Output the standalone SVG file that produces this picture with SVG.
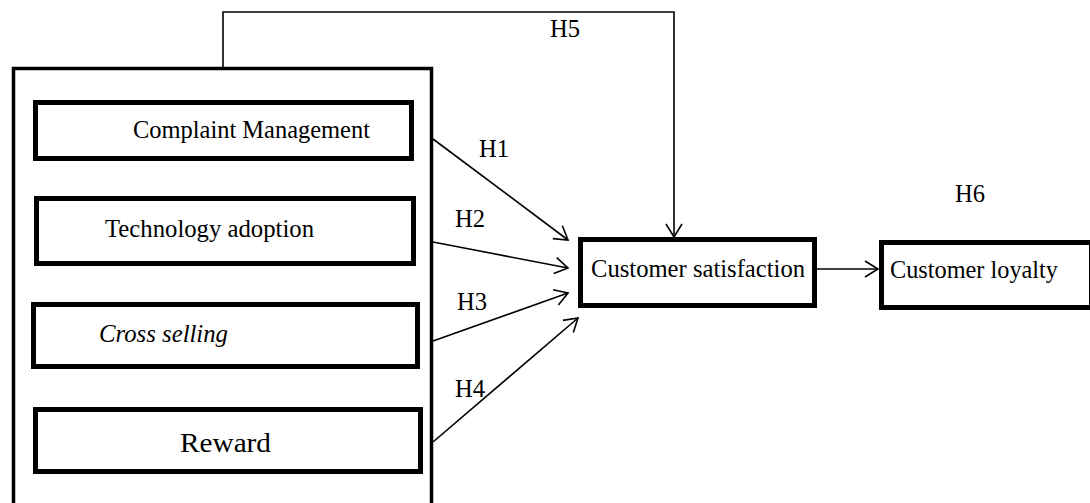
<svg xmlns="http://www.w3.org/2000/svg" width="1090" height="503" viewBox="0 0 1090 503">
<style>
.box{fill:#fff;stroke:#000;stroke-width:5}
.outer{fill:#fff;stroke:#000;stroke-width:3.5}
.t{font-family:'Liberation Serif','DejaVu Serif',serif;font-size:25px;fill:#000}
.it{font-style:italic}
.c{fill:none;stroke:#000;stroke-width:1.6}
</style>
<defs>
<marker id="ah" markerUnits="userSpaceOnUse" markerWidth="20" markerHeight="20" viewBox="0 0 20 20" refX="15" refY="10" orient="auto">
<path d="M2,2 L15,10 L2,18" fill="none" stroke="#000" stroke-width="1.6"/>
</marker>
</defs>
<rect width="1090" height="503" fill="#fff"/>
<g id="group-box">
<rect class="outer" x="13.5" y="68.5" width="418" height="450"/>
</g>
<g id="complaint">
<rect class="box" x="35.5" y="102.5" width="376" height="56"/>
<text class="t" font-family="Liberation Serif" x="133" y="138" textLength="237" lengthAdjust="spacingAndGlyphs">Complaint Management</text>
</g>
<g id="technology">
<rect class="box" x="36.5" y="198.5" width="377" height="65"/>
<text class="t" x="105" y="237" textLength="209" lengthAdjust="spacingAndGlyphs">Technology adoption</text>
</g>
<g id="cross">
<rect class="box" x="33.5" y="304.5" width="384" height="62"/>
<text class="t it" x="99" y="342" textLength="129" lengthAdjust="spacingAndGlyphs">Cross selling</text>
</g>
<g id="reward">
<rect class="box" x="35.5" y="409.5" width="385" height="62"/>
<text class="t" x="180" y="452" style="font-size:27px" textLength="91" lengthAdjust="spacingAndGlyphs">Reward</text>
</g>
<g id="satisfaction">
<rect class="box" x="580.5" y="239.5" width="234" height="66"/>
<text class="t" x="591" y="277" textLength="214" lengthAdjust="spacingAndGlyphs">Customer satisfaction</text>
</g>
<g id="loyalty">
<rect class="box" x="881.5" y="242.5" width="210" height="65"/>
<text class="t" x="890" y="278" textLength="168" lengthAdjust="spacingAndGlyphs">Customer loyalty</text>
</g>
<g id="connectors">
<path class="c" d="M223,67 L223,12 L674,12 L674,237" marker-end="url(#ah)"/>
<line class="c" x1="433" y1="139" x2="568" y2="240" marker-end="url(#ah)"/>
<line class="c" x1="433" y1="242" x2="568" y2="268" marker-end="url(#ah)"/>
<line class="c" x1="433" y1="341" x2="568" y2="293" marker-end="url(#ah)"/>
<line class="c" x1="433" y1="442" x2="578" y2="318" marker-end="url(#ah)"/>
<line class="c" x1="817" y1="269" x2="878" y2="269" marker-end="url(#ah)"/>
</g>
<g id="labels">
<text class="t" x="550" y="37" textLength="30" lengthAdjust="spacingAndGlyphs">H5</text>
<text class="t" x="479" y="157" textLength="30" lengthAdjust="spacingAndGlyphs">H1</text>
<text class="t" x="455" y="227" textLength="30" lengthAdjust="spacingAndGlyphs">H2</text>
<text class="t" x="457" y="310" textLength="30" lengthAdjust="spacingAndGlyphs">H3</text>
<text class="t" x="455" y="397" textLength="30" lengthAdjust="spacingAndGlyphs">H4</text>
<text class="t" x="955" y="202" textLength="30" lengthAdjust="spacingAndGlyphs">H6</text>
</g>
</svg>
